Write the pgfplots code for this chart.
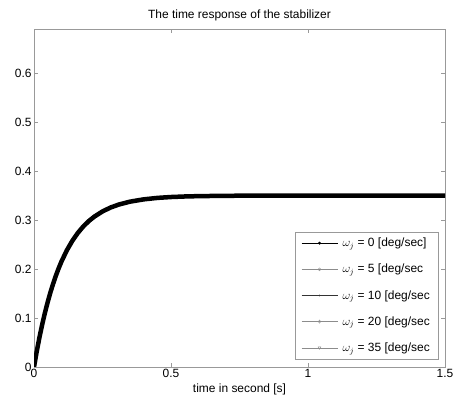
\documentclass[border=0pt]{standalone}
\usepackage{pgfplots}
\pgfplotsset{compat=1.18}
\usepackage{fontspec}
\setmainfont{Liberation Sans}
\definecolor{axgray}{gray}{0.6}
\definecolor{lgray}{gray}{0.55}
\begin{document}
\begin{tikzpicture}
\useasboundingbox (-34bp,-36bp) rectangle (424bp,367bp);
\begin{axis}[
  at={(0,0)}, anchor=south west,
  scale only axis, width=411bp, height=338bp,
  xmin=0, xmax=1.5, ymin=0, ymax=0.69,
  xtick={0,0.5,1,1.5}, xticklabels={0,0.5,1,1.5},
  ytick={0,0.1,0.2,0.3,0.4,0.5,0.6},
  yticklabels={0,0.1,0.2,0.3,0.4,0.5,0.6},
  tick align=inside, major tick length=4bp,
  axis line style={axgray}, every tick/.style={axgray},
  tick label style={font=\fontsize{12}{14}\selectfont, black},
  xticklabel style={yshift=1bp},
  yticklabel style={xshift=1bp},
  /pgf/number format/assume math mode=true,
  title={The time response of the stabilizer},
  title style={font=\fontsize{12}{14}\selectfont, yshift=-1bp},
  xlabel={time in second [s]},
  xlabel style={font=\fontsize{12}{14}\selectfont, yshift=1bp},
  legend cell align=left,
  legend style={at={(1,0)}, anchor=south east, xshift=-7bp, yshift=8bp,
    draw=axgray, font=\fontsize{12}{14}\selectfont,
    row sep=12bp, inner xsep=6bp, inner ysep=4bp,
    /tikz/every odd column/.append style={column sep=3bp}},
  legend image code/.code={\draw[mark repeat=2,mark phase=2] plot coordinates {(0bp,0bp) (18bp,0bp) (36bp,0bp)};},
]
\pgfplotstableread{
t y
0 0
0.01 0.0318
0.02 0.0607
0.03 0.0870
0.04 0.1109
0.05 0.1326
0.06 0.1524
0.07 0.1703
0.08 0.1866
0.09 0.2015
0.10 0.2150
0.12 0.2384
0.14 0.2577
0.16 0.2737
0.18 0.2870
0.20 0.2979
0.22 0.3069
0.25 0.3176
0.28 0.3257
0.31 0.3317
0.35 0.3375
0.40 0.3422
0.45 0.3452
0.50 0.3470
0.55 0.3481
0.60 0.3488
0.70 0.3495
0.80 0.3498
1.00 0.3500
1.50 0.3500
}\resp
\addplot[lgray, forget plot, no markers] table {\resp};
\addplot[lgray, forget plot, no markers] table {\resp};
\addplot[lgray, forget plot, no markers] table {\resp};
\addplot[lgray, forget plot, no markers] table {\resp};
\addplot[black, line width=4.5bp, no markers, line join=round, line cap=round, forget plot] table {\resp};
\addlegendimage{black, line width=0.4pt, mark=*, mark size=1.3bp}
\addlegendentry{$\omega_j$ = 0 [deg/sec]}
\addlegendimage{lgray, mark=o, mark size=1.5bp, mark options={lgray}}
\addlegendentry{$\omega_j$ = 5 [deg/sec}
\addlegendimage{black!80, mark=*, mark size=0.6bp}
\addlegendentry{$\omega_j$ = 10 [deg/sec}
\addlegendimage{lgray, mark=diamond, mark size=1.6bp}
\addlegendentry{$\omega_j$ = 20 [deg/sec}
\addlegendimage{lgray, mark=triangle, mark size=1.6bp, mark options={rotate=180}}
\addlegendentry{$\omega_j$ = 35 [deg/sec}
\end{axis}
\end{tikzpicture}
\end{document}
